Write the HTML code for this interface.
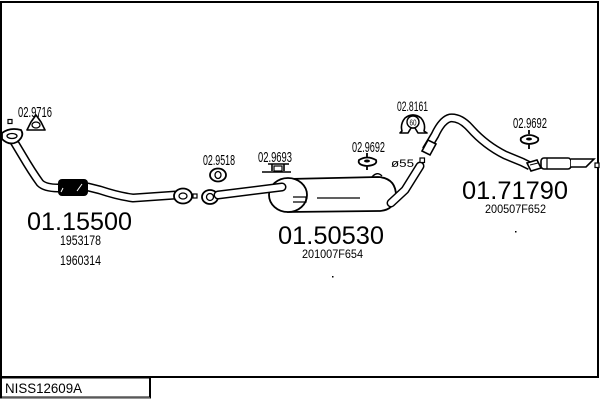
<!DOCTYPE html>
<html><head><meta charset="utf-8"><style>
html,body{margin:0;padding:0;background:#fff;}
svg{display:block;}
text{font-family:"Liberation Sans",sans-serif;fill:#000;}
</style></head><body>
<svg width="600" height="400" viewBox="0 0 600 400" xmlns="http://www.w3.org/2000/svg">
<rect x="0" y="0" width="600" height="400" fill="#fff"/>
<!-- frame -->
<path d="M1,378 L1,2 L598,2 L598,377 L1,377" fill="none" stroke="#000" stroke-width="2"/>
<rect x="1" y="377.5" width="149" height="20" fill="none" stroke="#000" stroke-width="2"/>
<line x1="2" y1="398" x2="150" y2="398" stroke="#777" stroke-width="1.5"/>
<text x="5" y="393" font-size="14" textLength="77" lengthAdjust="spacingAndGlyphs">NISS12609A</text>

<!-- LEFT SECTION -->
<text x="18" y="117" font-size="15" textLength="34" lengthAdjust="spacingAndGlyphs">02.9716</text>
<rect x="8" y="119.5" width="4" height="4" fill="#fff" stroke="#000" stroke-width="1.2"/>
<path d="M36,115 L41,122 L45,130 L27,130 L31,122 Z" fill="#fff" stroke="#000" stroke-width="1.6" stroke-linejoin="round"/>
<ellipse cx="36" cy="125" rx="4" ry="3" fill="#fff" stroke="#000" stroke-width="1.3"/>
<g fill="none" stroke-linecap="round" stroke-linejoin="round">
<path d="M13,140 L22,155 Q32,172 40,183 Q45,188 58,188 M88,187 L100,190 Q118,196 133,198 L176,195" stroke="#000" stroke-width="9"/>
<path d="M13,140 L22,155 Q32,172 40,183 Q45,188 58,188 M88,187 L100,190 Q118,196 133,198 L176,195" stroke="#fff" stroke-width="6"/>
</g>
<path d="M2,133 Q10,127 21,130 Q25,136 17,142 Q9,146 2,139 Z" fill="#fff" stroke="#000" stroke-width="1.8"/>
<ellipse cx="12" cy="136" rx="5" ry="2.5" fill="#fff" stroke="#000" stroke-width="1.3"/>
<rect x="58" y="179" width="30" height="17" rx="4" fill="#000"/>
<line x1="63" y1="188" x2="61" y2="192" stroke="#fff" stroke-width="1"/>
<line x1="77" y1="191" x2="82" y2="184" stroke="#fff" stroke-width="1"/>
<ellipse cx="183" cy="196" rx="9" ry="7.5" fill="#fff" stroke="#000" stroke-width="1.8"/>
<ellipse cx="183" cy="196" rx="4" ry="3" fill="#fff" stroke="#000" stroke-width="1.3"/>
<rect x="193" y="194" width="4" height="4" fill="#fff" stroke="#000" stroke-width="1.2"/>
<text x="27" y="230" font-size="25" textLength="105" lengthAdjust="spacingAndGlyphs">01.15500</text>
<text x="60" y="245" font-size="13.5" textLength="41" lengthAdjust="spacingAndGlyphs">1953178</text>
<text x="60" y="265" font-size="13.5" textLength="41" lengthAdjust="spacingAndGlyphs">1960314</text>

<!-- MIDDLE SECTION -->
<text x="203" y="165" font-size="15" textLength="32" lengthAdjust="spacingAndGlyphs">02.9518</text>
<ellipse cx="218" cy="175" rx="8" ry="6.5" fill="#fff" stroke="#000" stroke-width="1.8"/>
<ellipse cx="218" cy="175" rx="3" ry="3.5" fill="#fff" stroke="#000" stroke-width="1.3"/>
<text x="258" y="162" font-size="15" textLength="34" lengthAdjust="spacingAndGlyphs">02.9693</text>
<path d="M268,164 L289,164 M272,164 L272,171 M284,164 L284,171 M262,172 L291,172" stroke="#000" stroke-width="1.6" fill="none"/>
<rect x="274" y="166" width="8" height="5" fill="#fff" stroke="#000" stroke-width="1.2"/>
<ellipse cx="210" cy="197" rx="8" ry="7" fill="#fff" stroke="#000" stroke-width="1.8"/>
<ellipse cx="210" cy="197" rx="3.5" ry="3.5" fill="#fff" stroke="#000" stroke-width="1.3"/>
<path d="M288,179 L378,177 Q396,178 396,196 Q394,211 378,211 L288,212 Z" fill="#fff" stroke="#000" stroke-width="1.8"/>
<path d="M372,177 Q377,171 382,176" fill="none" stroke="#000" stroke-width="1.4"/>
<ellipse cx="288" cy="195" rx="19" ry="17" fill="#fff" stroke="#000" stroke-width="1.8"/>
<path d="M293,197 L306,197 L306,202 L293,202" fill="none" stroke="#000" stroke-width="1.3"/>
<line x1="317" y1="198" x2="360" y2="198" stroke="#000" stroke-width="1.3"/>
<g fill="none" stroke-linecap="round" stroke-linejoin="round">
<path d="M218,195 L282,187" stroke="#000" stroke-width="9"/>
<path d="M218,195 L282,187" stroke="#fff" stroke-width="6"/>
<path d="M391,203 L405,190 L420,166" stroke="#000" stroke-width="9"/>
<path d="M391,203 L405,190 L420,166" stroke="#fff" stroke-width="6"/>
</g>
<rect x="420" y="158" width="4.5" height="4.5" fill="#fff" stroke="#000" stroke-width="1.2"/>
<text x="352" y="152" font-size="15" textLength="33" lengthAdjust="spacingAndGlyphs">02.9692</text>
<path d="M367,153 L367,157 M359,160 Q367,155 376,160 Q378,165 367,166 Q357,165 359,160 Z M367,166 L367,170" fill="#fff" stroke="#000" stroke-width="1.8"/>
<ellipse cx="367" cy="161" rx="3" ry="1.5" fill="#000"/>
<text x="391" y="167" font-size="11" textLength="23" lengthAdjust="spacingAndGlyphs">ø55</text>
<text x="278" y="244" font-size="25" textLength="106" lengthAdjust="spacingAndGlyphs">01.50530</text>
<text x="302" y="258" font-size="12" textLength="61" lengthAdjust="spacingAndGlyphs">201007F654</text>
<rect x="332" y="276" width="1.5" height="1.5" fill="#000"/>

<!-- RIGHT SECTION -->
<text x="397" y="111" font-size="14" textLength="31" lengthAdjust="spacingAndGlyphs">02.8161</text>
<path d="M402,131 Q400,124 405,118 Q413,112 421,118 Q426,124 424,131 L427,133 L418,133 L415,128 L411,128 L408,133 L400,133 Z" fill="#fff" stroke="#000" stroke-width="1.6" stroke-linejoin="round"/>
<circle cx="413" cy="122" r="6" fill="#fff" stroke="#000" stroke-width="1.4"/>
<text x="409.5" y="125.5" font-size="8" textLength="7" lengthAdjust="spacingAndGlyphs">60</text>
<g fill="none" stroke-linecap="butt" stroke-linejoin="round">
<path d="M426,150 L435,135 Q442,120 450,118 Q460,117 470,128 Q485,145 505,155 L522,162 L530,166" stroke="#000" stroke-width="9"/>
<path d="M426,150 L435,135 Q442,120 450,118 Q460,117 470,128 Q485,145 505,155 L522,162 L530,166" stroke="#fff" stroke-width="6"/>
</g>
<path d="M422,151 L428,140 L436,144 L430,155 Z" fill="#fff" stroke="#000" stroke-width="1.6"/>
<path d="M527,163 L537,160 L541,168 L531,171 Z" fill="#fff" stroke="#000" stroke-width="1.6"/>
<line x1="530" y1="165" x2="538" y2="163" stroke="#000" stroke-width="1"/>
<rect x="541" y="158" width="30" height="11" rx="3" fill="#fff" stroke="#000" stroke-width="1.6"/>
<line x1="547" y1="158" x2="547" y2="169" stroke="#000" stroke-width="1.2"/>
<path d="M571,159 L594,159 L586,167 L571,167" fill="#fff" stroke="#000" stroke-width="1.6"/>
<rect x="595" y="163" width="4" height="4.5" fill="#fff" stroke="#000" stroke-width="1.2"/>
<text x="513" y="128" font-size="15" textLength="34" lengthAdjust="spacingAndGlyphs">02.9692</text>
<path d="M529,130 L529,134 M521,138 Q529,132 538,138 Q540,143 529,144 Q519,143 521,138 Z M529,144 L529,149" fill="#fff" stroke="#000" stroke-width="1.8"/>
<ellipse cx="529" cy="139" rx="3" ry="1.5" fill="#000"/>
<text x="462" y="199" font-size="25" textLength="106" lengthAdjust="spacingAndGlyphs">01.71790</text>
<text x="485" y="213" font-size="12" textLength="61" lengthAdjust="spacingAndGlyphs">200507F652</text>
<rect x="515" y="231" width="1.5" height="1.5" fill="#000"/>
</svg>
</body></html>
